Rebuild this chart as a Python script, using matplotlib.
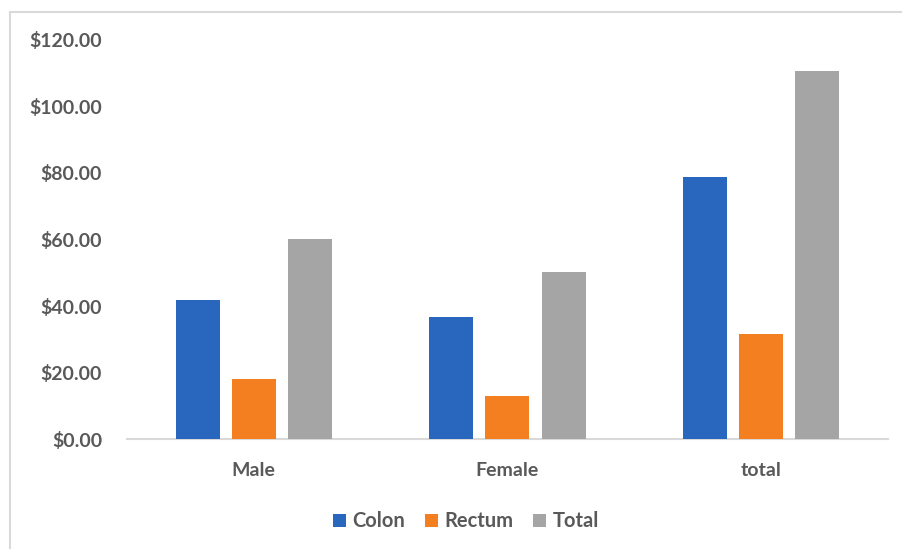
import matplotlib.pyplot as plt
from matplotlib.patches import Rectangle
import numpy as np

groups = ['Male', 'Female', 'total']
colon = [41.8, 36.7, 78.8]
rectum = [18.2, 13.1, 31.6]
total = [60.3, 50.2, 110.6]
series_names = ['Colon', 'Rectum', 'Total']
series_colors = ['#2966BE', '#F47F20', '#A5A5A5']
yticks = [0, 20, 40, 60, 80, 100, 120]

plt.rcParams['font.family'] = ['Lato', 'DejaVu Sans']
txt = '#595959'

fig = plt.figure(figsize=(9.03, 5.49), dpi=100)
ax = fig.add_axes([0.1406, 0.1995, 0.8428, 0.7285])

# outer chart frame (only top/left visible in the crop)
fig.patches.append(Rectangle((10 / 903, -0.1), 1.2, (549 - 12) / 549 + 0.1,
                             transform=fig.transFigure, fill=False,
                             edgecolor='#D9D9D9', linewidth=1.5))

x = np.arange(len(groups))
w = 0.1735
step = 0.221
for i, (vals, name, col) in enumerate(zip([colon, rectum, total], series_names, series_colors)):
    ax.bar(x + (i - 1) * step, vals, w, color=col, label=name, zorder=3)

ax.set_xlim(-0.5, 2.5)
ax.set_ylim(0, 120)
ax.set_yticks(yticks)
ax.set_yticklabels(['${:.2f}'.format(v) for v in yticks])
ax.set_xticks(x)
ax.set_xticklabels(groups)
ax.tick_params(length=0, labelcolor=txt)
ax.tick_params(axis='y', pad=18, labelsize=14)
ax.tick_params(axis='x', pad=16, labelsize=14)
for lab in ax.get_xticklabels() + ax.get_yticklabels():
    lab.set_fontweight('bold')

for s in ['top', 'right', 'left']:
    ax.spines[s].set_visible(False)
ax.spines['bottom'].set_color('#D9D9D9')
ax.spines['bottom'].set_linewidth(1.5)

leg = ax.legend(loc='center', bbox_to_anchor=(0.4455, -0.205), ncol=3, frameon=False,
                handlelength=0.65, handleheight=0.65, handletextpad=0.3, columnspacing=1.0,
                prop={'size': 14.5, 'weight': 'bold'})
for t in leg.get_texts():
    t.set_color(txt)

fig.savefig('out.png', dpi=100)
